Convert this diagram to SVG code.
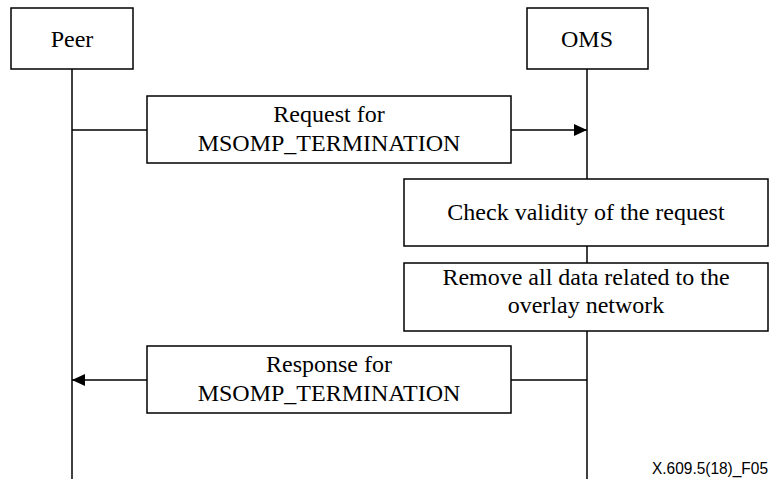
<svg xmlns="http://www.w3.org/2000/svg" width="771" height="479" viewBox="0 0 771 479">
<style>
.box{fill:#fff;stroke:#000;stroke-width:1.5}
.ln{stroke:#000;stroke-width:1.5;fill:none}
.t{font-family:"Liberation Serif","Times New Roman",serif;font-size:24px;fill:#000;text-anchor:middle}
.lbl{font-family:"Liberation Sans",Arial,sans-serif;font-size:16px;fill:#000}
</style>
<defs>
<marker id="ah" markerWidth="13" markerHeight="12" refX="13" refY="6" orient="auto" markerUnits="userSpaceOnUse">
<path d="M0,0 L13,6 L0,12 Z" fill="#000"/>
</marker>
</defs>
<g id="lifelines">
<line class="ln" x1="72" y1="69" x2="72" y2="479"/>
<line class="ln" x1="587" y1="69" x2="587" y2="479"/>
</g>
<g id="connectors">
<line class="ln" x1="72" y1="130" x2="587" y2="130" marker-end="url(#ah)"/>
<line class="ln" x1="587" y1="380" x2="72" y2="380" marker-end="url(#ah)"/>
</g>
<g id="peer">
<rect class="box" x="11" y="8" width="122" height="61"/>
<text class="t" x="72" y="47">Peer</text>
</g>
<g id="oms">
<rect class="box" x="527" y="8" width="121" height="61"/>
<text class="t" x="587" y="47">OMS</text>
</g>
<g id="request">
<rect class="box" x="147" y="96" width="364" height="67"/>
<text class="t" x="329" y="122">Request for</text>
<text class="t" x="329" y="151">MSOMP_TERMINATION</text>
</g>
<g id="check">
<rect class="box" x="404" y="179" width="364" height="67"/>
<text class="t" x="586" y="220">Check validity of the request</text>
</g>
<g id="remove">
<rect class="box" x="404" y="263" width="364" height="68"/>
<text class="t" x="586" y="285">Remove all data related to the</text>
<text class="t" x="586" y="313">overlay network</text>
</g>
<g id="response">
<rect class="box" x="147" y="346" width="364" height="67"/>
<text class="t" x="329" y="372">Response for</text>
<text class="t" x="329" y="401">MSOMP_TERMINATION</text>
</g>
<text class="lbl" x="652" y="474" textLength="116" lengthAdjust="spacingAndGlyphs">X.609.5(18)_F05</text>
</svg>
